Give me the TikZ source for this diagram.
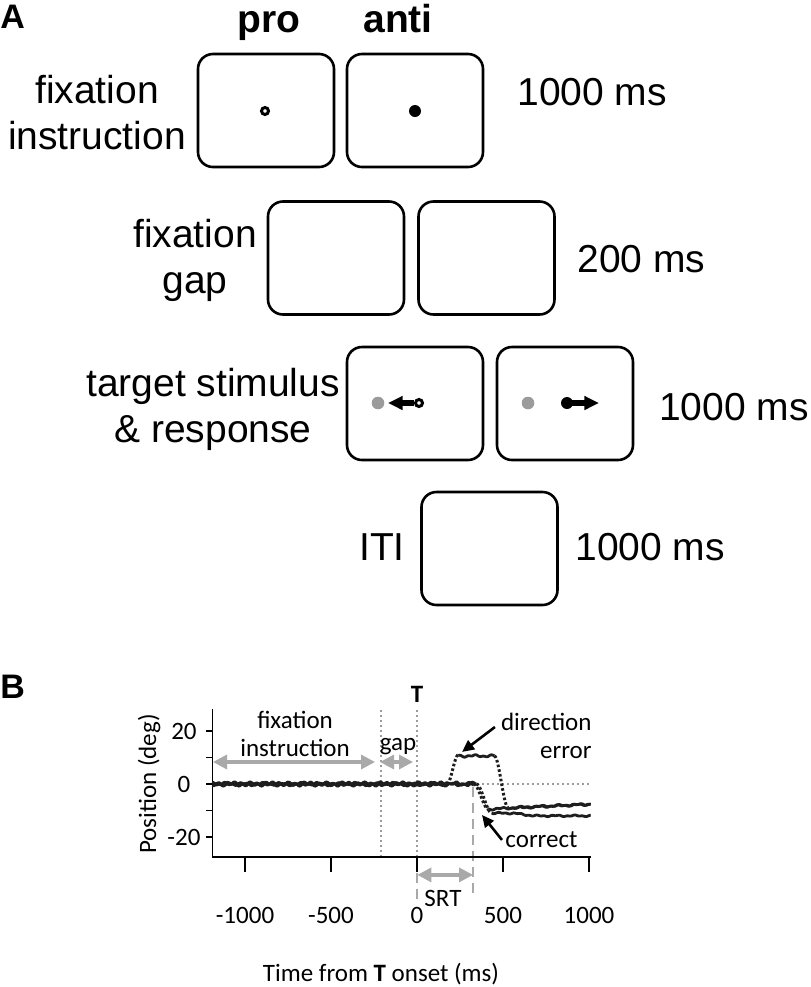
\documentclass[tikz,border=0pt]{standalone}
\usepackage{fontspec}
\setmainfont{Liberation Sans}
\newfontfamily\calfont{Carlito}
\usepackage{tikz}
\usetikzlibrary{
  positioning,
  arrows.meta
}
\definecolor{stimgray}{HTML}{9B9B9B}
\definecolor{arrgray}{HTML}{A9A9A9}
\definecolor{tracecol}{HTML}{1E1E1E}
\tikzset{
  screen/.style={draw, line width=1.3bp, rounded corners=7.5bp, minimum width=68bp, minimum height=56.5bp, inner sep=0},
  conlabel/.style={font=\fontsize{19.5bp}{23bp}\selectfont, align=center, inner sep=0},
  headlabel/.style={font=\bfseries\fontsize{19.5bp}{23bp}\selectfont, inner sep=0},
  panel/.style={font=\bfseries\fontsize{17bp}{20bp}\selectfont, inner sep=0},
  plotlabel/.style={font=\calfont\fontsize{12.5bp}{14bp}\selectfont, inner sep=0},
  opendot/.style={circle, draw, line width=1.5bp, fill=white, minimum size=3.5bp, inner sep=0},
  fulldot/.style={circle, fill=black, minimum size=6bp, inner sep=0},
  cuedot/.style={circle, fill=stimgray, minimum size=6.3bp, inner sep=0},
  eyemove/.style={line width=3.3bp, -{Triangle[length=7.3bp,width=6.6bp]}},
  period/.style={arrgray, line width=1.6bp, {Triangle[length=7bp,width=7bp]}-{Triangle[length=7bp,width=7bp]}},
  pointer/.style={line width=1.3bp, -{Triangle[length=6bp,width=5.5bp]}},
  trace/.style={tracecol, line width=1.4bp},
  saccade/.style={tracecol, line width=1.5bp, dash pattern=on 1.3bp off 1.1bp},
  epoch/.style={stimgray, line width=0.9bp, dash pattern=on 1.1bp off 1.4bp},
  srtline/.style={arrgray, line width=1.2bp, dash pattern=on 5bp off 3bp}
}

\begin{document}
\begin{tikzpicture}[x=0.5bp, y=-0.5bp,
    declare function={wob(\t)=0.45*sin(3.3*\t)+0.35*sin(8.1*\t+40); sstep(\t)=3*\t*\t-2*\t*\t*\t;}]
  \useasboundingbox (0,0) rectangle (811,987);

  % A: trial sequence
  \node[panel, anchor=base west] (lblA) at (0,28) {A};
  \node[headlabel, anchor=base] (hpro) at (269,32) {pro};
  \node[headlabel, anchor=base] (hanti) at (398,32) {anti};

  \node[screen] (fi-pro) at (266,110.5) {};
  \node[screen] (fi-anti) at (415,110.5) {};
  \node[opendot] (fi-prodot) at (265,111) {};
  \node[fulldot] (fi-antidot) at (415,111) {};
  \node[conlabel] (fi-lbl) at (97,112.5) {fixation\\instruction};
  \node[conlabel, anchor=west] (fi-dur) at (517,92) {1000 ms};

  \node[screen] (gap-pro) at (336,258) {};
  \node[screen] (gap-anti) at (486.5,258) {};
  \node[conlabel] (gap-lbl) at (195,260) {fixation\\gap};
  \node[conlabel, anchor=west] (gap-dur) at (577,259) {200 ms};

  \node[screen] (tg-pro) at (415,403.5) {};
  \node[screen] (tg-anti) at (565,403.5) {};
  \node[cuedot] (tg-procue) at (378,403) {};
  \node[opendot] (tg-proeye) at (419,403) {};
  \coordinate (tg-proland) at (388,403);
  \draw[eyemove] (tg-proeye.west) -- (tg-proland);
  \node[cuedot] (tg-anticue) at (528,403) {};
  \node[fulldot] (tg-antieye) at (567,403) {};
  \coordinate (tg-antiland) at (599,403);
  \draw[eyemove] (tg-antieye.center) -- (tg-antiland);
  \node[conlabel] (tg-lbl) at (213,409) {target stimulus\\\& response};
  \node[conlabel, anchor=east] (tg-dur) at (809,407) {1000 ms};

  \node[screen] (iti) at (489.5,548.5) {};
  \node[conlabel] (iti-lbl) at (382,547) {ITI};
  \node[conlabel, anchor=west] (iti-dur) at (575,547) {1000 ms};

  % B: eye position traces
  \node[panel, anchor=base west] (lblB) at (0,698) {B};
  \node[plotlabel] (xlab) at (381,974) {Time from \textbf{T} onset (ms)};

  \begin{scope}[shift={(417,784)}, x=0.086bp, y=1.325bp]
    \draw[epoch] (0,0) -- (1010,0);
    \draw[epoch] (-210,28) -- (-210,-27.5);
    \draw[epoch] (0,28) -- (0,-27.5);
    \draw[srtline] (0,-27.5) -- (0,-44.5);
    \draw[srtline] (326,-1.1) -- (326,-41.9);

    \draw[line width=0.7bp] (-1190,28.3) -- (-1190,-27.5) -- (1010,-27.5);
    \foreach \t in {-1000,-500,0,500,1000} {
      \draw[line width=0.7bp] (\t,-27.5) -- ++(0,-5.7);
      \node[plotlabel, anchor=base] (xt\t) at (\t,-52.5) {\t};
    }
    \foreach \v in {-20,-10,0,10,20}
      \draw[line width=0.7bp] (-1190,\v) -- ++(-35,0);
    \foreach \v in {-20,0,20}
      \node[plotlabel] (yt\v) at (-1355,\v) {\v};
    \node[plotlabel, rotate=90] (ylab) at (-1558,0) {Position (deg)};
    \node[plotlabel, font=\calfont\bfseries\fontsize{12.5bp}{14bp}\selectfont, anchor=base] (tlab) at (0,30.6) {T};

    % epochs
    \coordinate (fixS) at (-1186,8.3);
    \coordinate (fixE) at (-244,8.3);
    \coordinate (gapS) at (-215,8.3);
    \coordinate (gapE) at (-23,8.3);
    \coordinate (srtS) at (2,-34.3);
    \coordinate (srtE) at (326,-34.3);
    \draw[period] (fixS) -- (fixE);
    \draw[period] (gapS) -- (gapE);
    \draw[period] (srtS) -- (srtE);
    \node[plotlabel, align=center] (fixlab) at (-709,18.9) {fixation\\instruction};
    \node[plotlabel, anchor=base] (gaplab) at (-110,12.8) {gap};
    \node[plotlabel, anchor=base] (srtlab) at (151,-46.4) {SRT};

    % traces
    \draw[trace] plot[domain=-1190:175, samples=240] (\x,{wob(\x)});
    \draw[trace] plot[domain=-1190:330, samples=260] (\x,{0.8*wob(\x+57)});
    \draw[trace] plot[domain=-1190:345, samples=260] (\x,{wob(\x+131)});
    \draw[saccade] plot[domain=0:1, samples=15] ({175+65*\x},{11*sstep(\x)});
    \draw[trace] plot[domain=240:450, samples=50] (\x,{10.6+0.6*wob(\x+20)});
    \draw[saccade] plot[domain=0:1, samples=15] ({450+80*\x},{10.6-19.6*sstep(\x)});
    \draw[trace] plot[domain=530:1010, samples=100] (\x,{-9+1.4*(\x-530)/480+0.5*wob(\x+70)});
    \draw[saccade] plot[domain=0:1, samples=15] ({330+85*\x},{-9.5*sstep(\x)});
    \draw[trace] plot[domain=415:1010, samples=110] (\x,{-9.5+1.9*(\x-415)/595+0.5*wob(\x+300)});
    \draw[saccade] plot[domain=0:1, samples=15] ({345+90*\x},{-11*sstep(\x)});
    \draw[trace] plot[domain=435:1010, samples=110] (\x,{-11-min(max((\x-560)/120,0),1)+0.4*wob(\x+200)});

    % labels with pointers
    \node[plotlabel, align=right, anchor=east] (errlab) at (1017,18.1) {direction\\error};
    \node[plotlabel, anchor=base west] (corlab) at (512,-23.8) {correct};
    \coordinate (errtail) at (453,21.5);
    \coordinate (errtip) at (262,12.1);
    \coordinate (cortail) at (494,-21.1);
    \coordinate (cortip) at (378,-11.7);
    \draw[pointer] (errtail) -- (errtip);
    \draw[pointer] (cortail) -- (cortip);
  \end{scope}
\end{tikzpicture}
\end{document}
